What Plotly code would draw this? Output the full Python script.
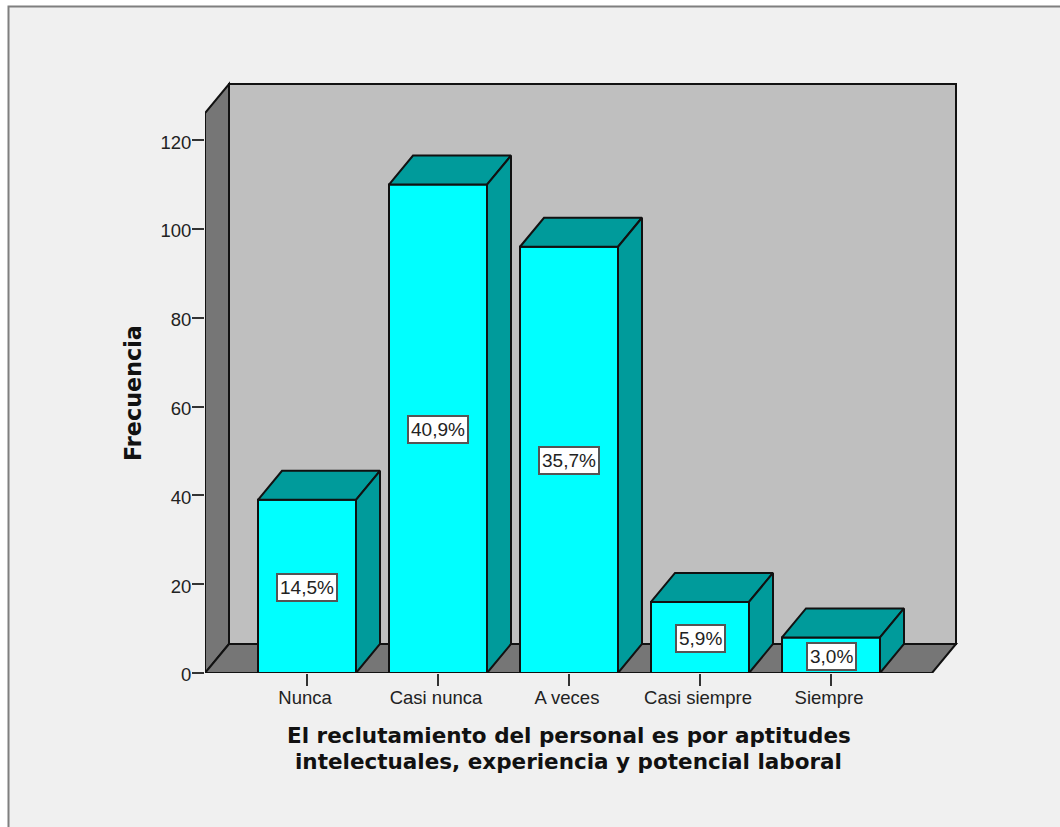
import plotly.graph_objects as go

categories = ["Nunca", "Casi nunca", "A veces", "Casi siempre", "Siempre"]
frequencies = [39, 110, 96, 16, 8]
percent_labels = ["14,5%", "40,9%", "35,7%", "5,9%", "3,0%"]
y_ticks = [0, 20, 40, 60, 80, 100, 120]
x_title_lines = [
    "El reclutamiento del personal es por aptitudes",
    "intelectuales, experiencia y potencial laboral",
]
y_title = "Frecuencia"

PAGE_W, PAGE_H = 1060, 827
# Plot rectangle in page pixels; the left and bottom edges carry the axes.
LEFT, RIGHT, TOP, BOTTOM = 205, 962, 78, 673
CATEGORY_STEP = 131.0
FIRST_CENTER = 307.0
PX_PER_UNIT = 4.44
BAR_WIDTH = 98 / CATEGORY_STEP

# Extrusion of the 3-D look, in axis units.
DEPTH_X = 24 / CATEGORY_STEP
DEPTH_Y = 29 / PX_PER_UNIT

x_range = [(LEFT - FIRST_CENTER) / CATEGORY_STEP, (RIGHT - FIRST_CENTER) / CATEGORY_STEP]
y_range = [0, (BOTTOM - TOP) / PX_PER_UNIT]

# Front edge of the box: 727 px along the floor, 126 units up the left wall.
floor_left = x_range[0]
floor_right = floor_left + 727 / CATEGORY_STEP
wall_height = 126.1

WALL = "#BFBFBF"
SIDE = "#767676"
BAR_FRONT = "#00FFFF"
BAR_SHADE = "#009B9B"
INK = "#111111"
BG = "#F0F0F0"
TEXT = "#222222"

positions = list(range(len(categories)))


def polygon(xs, ys, fill):
    return dict(
        type="path",
        xref="x",
        yref="y",
        layer="below",
        path="M" + " L".join(f"{a},{b}" for a, b in zip(xs, ys)) + " Z",
        fillcolor=fill,
        line=dict(color=INK, width=2),
    )


def paper_x(px):
    return (px - LEFT) / (RIGHT - LEFT)


def paper_y(px):
    return (BOTTOM - px) / (BOTTOM - TOP)


shapes = [
    # Panel behind the chart, with its grey frame running off the page edges.
    dict(type="rect", xref="paper", yref="paper", layer="below",
         x0=paper_x(8.5), x1=paper_x(1075), y0=paper_y(845), y1=paper_y(6.5),
         fillcolor=BG, line=dict(color="#7F7F7F", width=2)),
    # Back wall, left wall and floor of the box.
    polygon([floor_left + DEPTH_X, floor_right + DEPTH_X, floor_right + DEPTH_X, floor_left + DEPTH_X],
            [DEPTH_Y, DEPTH_Y, wall_height + DEPTH_Y, wall_height + DEPTH_Y], WALL),
    polygon([floor_left, floor_left + DEPTH_X, floor_left + DEPTH_X, floor_left],
            [0, DEPTH_Y, wall_height + DEPTH_Y, wall_height], SIDE),
    polygon([floor_left, floor_right, floor_right + DEPTH_X, floor_left + DEPTH_X],
            [0, 0, DEPTH_Y, DEPTH_Y], SIDE),
]

fig = go.Figure()

# Front faces of the bars.
fig.add_trace(go.Bar(
    x=positions, y=frequencies, width=BAR_WIDTH,
    marker=dict(color=BAR_FRONT, line=dict(color=INK, width=2)),
    cliponaxis=False, hoverinfo="skip", showlegend=False,
))

# Top and side faces, extruded from each bar's value.
for pos, value in zip(positions, frequencies):
    x0, x1 = pos - BAR_WIDTH / 2, pos + BAR_WIDTH / 2
    for xs, ys in (
        ([x0, x1, x1 + DEPTH_X, x0 + DEPTH_X, x0],
         [value, value, value + DEPTH_Y, value + DEPTH_Y, value]),
        ([x1, x1 + DEPTH_X, x1 + DEPTH_X, x1, x1],
         [0, DEPTH_Y, value + DEPTH_Y, value, 0]),
    ):
        fig.add_trace(go.Scatter(
            x=xs, y=ys, mode="lines", fill="toself", fillcolor=BAR_SHADE,
            line=dict(color=INK, width=2), cliponaxis=False,
            hoverinfo="skip", showlegend=False,
        ))

# Outer box edges that sit on the plot boundary.
fig.add_trace(go.Scatter(
    x=[floor_left, floor_left, floor_right],
    y=[wall_height, 0, 0],
    mode="lines", line=dict(color=INK, width=2), cliponaxis=False,
    hoverinfo="skip", showlegend=False,
))

annotations = [
    dict(x=pos, y=value / 2, yshift=-1, xref="x", yref="y", text=label, showarrow=False,
         font=dict(family="Liberation Sans", size=19, color=TEXT),
         bgcolor="white", bordercolor="#555555", borderwidth=2, borderpad=2)
    for pos, value, label in zip(positions, frequencies, percent_labels)
]
# The axis title lines are placed separately for a tighter leading.
for line, centre_y in zip(x_title_lines, (735, 761)):
    annotations.append(dict(
        x=paper_x(568.5), y=paper_y(centre_y),
        xref="paper", yref="paper", text=line, showarrow=False,
        xanchor="center", yanchor="middle",
        font=dict(family="DejaVu Sans", size=21.5, color="#111111", weight="bold"),
    ))
annotations.append(dict(
    x=paper_x(133), y=paper_y(393),
    xref="paper", yref="paper", text=y_title, showarrow=False, textangle=-90,
    xanchor="center", yanchor="middle",
    font=dict(family="DejaVu Sans", size=22.3, color="#111111", weight="bold"),
))

fig.update_layout(
    width=PAGE_W, height=PAGE_H,
    margin=dict(l=LEFT, r=PAGE_W - RIGHT, t=TOP, b=PAGE_H - BOTTOM, autoexpand=False),
    paper_bgcolor="white", plot_bgcolor="rgba(0,0,0,0)",
    shapes=shapes, annotations=annotations, showlegend=False,
    xaxis=dict(
        range=x_range, tickmode="array", tickvals=positions, ticktext=categories,
        ticks="outside", ticklen=12, tickwidth=2, tickcolor="#333333",
        ticklabelstandoff=-4, ticklabelshift=-2,
        showgrid=False, zeroline=False, showline=False,
        tickfont=dict(family="Liberation Sans", size=18.5, color=TEXT),
    ),
    yaxis=dict(
        range=y_range, tickmode="array", tickvals=y_ticks,
        ticks="outside", ticklen=12, tickwidth=2, tickcolor="#333333",
        ticklabelstandoff=-3, ticklabelshift=2,
        showgrid=False, zeroline=False, showline=False,
        tickfont=dict(family="Liberation Sans", size=18.5, color=TEXT),
    ),
)

fig.write_html("out.html", config=dict(displayModeBar=False))
